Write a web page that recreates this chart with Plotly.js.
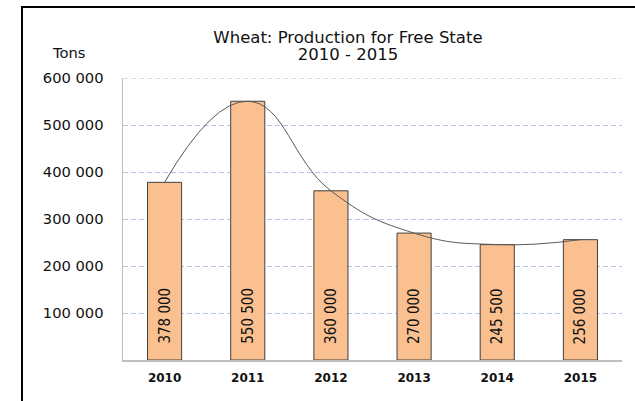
<!DOCTYPE html>
<html>
<head>
<meta charset="utf-8">
<script src="https://cdn.plot.ly/plotly-3.0.1.min.js"></script>
<style>
html, body { margin: 0; padding: 0; background: #fff; }
#chart { width: 635px; height: 401px; }
</style>
</head>
<body>
<div id="chart"></div>
<script>
const years = ['2010', '2011', '2012', '2013', '2014', '2015'];
const production = [378000, 550500, 360000, 270000, 245500, 256000];
const yTickValues = [100000, 200000, 300000, 400000, 500000, 600000];
const titleLines = ['Wheat: Production for Free State', '2010 - 2015'];
const unitLabel = 'Tons';

function fmt(v) {
  return String(v).replace(/\B(?=(\d{3})+(?!\d))/g, ' ');
}

const baseFont = 'DejaVu Sans, Verdana, sans-serif';
const gridColor = '#b4c6e7';

const barTrace = {
  type: 'bar',
  x: years,
  y: production,
  marker: { color: '#FAC090', line: { color: '#3f3f3f', width: 1 } },
  hoverinfo: 'none'
};

const lineTrace = {
  type: 'scatter',
  mode: 'lines',
  x: years,
  y: production,
  line: { shape: 'spline', smoothing: 1.3, color: '#595959', width: 1 },
  hoverinfo: 'none'
};

const annotations = years.map((yr, i) => ({
  x: i, y: 0, xref: 'x', yref: 'y',
  text: fmt(production[i]),
  textangle: -90,
  showarrow: false,
  xanchor: 'center', yanchor: 'bottom',
  yshift: 14,
  font: { family: 'Liberation Sans Narrow, DejaVu Sans Condensed, sans-serif', size: 15, color: '#111' }
}));

annotations.push({
  x: -0.109, y: 1.089, xref: 'paper', yref: 'paper',
  text: unitLabel, showarrow: false,
  xanchor: 'center', yanchor: 'middle',
  font: { family: baseFont, size: 14.7, color: '#111' }
});

const layout = {
  width: 635, height: 401,
  margin: { l: 123, r: 13, t: 78, b: 41 },
  paper_bgcolor: '#fff', plot_bgcolor: '#fff',
  showlegend: false,
  bargap: 0.59,
  title: {
    text: titleLines.map(s => '<span style="font-size:16.5px">' + s + '</span>').join('<br>'),
    x: 0.548, xanchor: 'center', xref: 'container',
    y: 0.893, yanchor: 'top', yref: 'container',
    font: { family: baseFont, size: 13, color: '#111' }
  },
  xaxis: {
    type: 'category',
    showline: true, linecolor: '#bfbfbf', linewidth: 1.5,
    showgrid: false, ticks: '',
    ticklabelstandoff: 6,
    tickfont: { family: baseFont, size: 12, color: '#111', weight: 'bold' }
  },
  yaxis: {
    range: [0, 600000],
    tickvals: yTickValues,
    ticktext: yTickValues.map(fmt),
    showline: true, linecolor: '#bfbfbf', linewidth: 1.5,
    showgrid: true, gridcolor: gridColor, griddash: '5px,3px', gridwidth: 1,
    zeroline: false, ticks: '',
    ticklabelstandoff: 15,
    tickfont: { family: baseFont, size: 14.7, color: '#111' }
  },
  annotations: annotations,
  shapes: [
    {
      type: 'line', xref: 'paper', yref: 'y',
      x0: 0, x1: 1, y0: yTickValues[yTickValues.length - 1], y1: yTickValues[yTickValues.length - 1],
      line: { color: gridColor, width: 1.2, dash: '5px,3px' }, layer: 'below'
    },
    {
      type: 'rect', xref: 'paper', yref: 'paper',
      x0: -0.2024, x1: 1.2, y0: -0.4, y1: 1.2518,
      line: { color: '#000', width: 2 }, fillcolor: 'rgba(0,0,0,0)', layer: 'above'
    }
  ]
};

Plotly.newPlot('chart', [barTrace, lineTrace], layout, { staticPlot: true, displayModeBar: false });
</script>
</body>
</html>
